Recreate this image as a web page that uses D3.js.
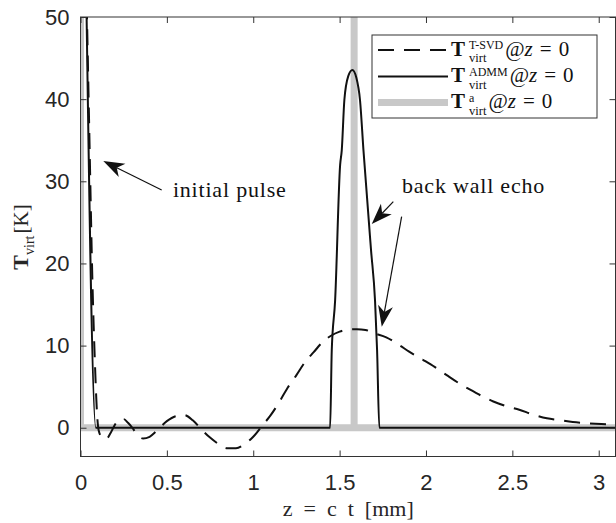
<!DOCTYPE html>
<html>
<head>
<meta charset="utf-8">
<script src="https://cdn.jsdelivr.net/npm/d3@7"></script>
<style>
  body { margin: 0; background: #fff; }
</style>
</head>
<body>
<div id="chart"></div>
<script>
// tick values
var xTicks = [0, 0.5, 1, 1.5, 2, 2.5, 3];
var yTicks = [0, 10, 20, 30, 40, 50];

// T-SVD reconstruction (dashed)
var svdZ = [0.03, 0.05, 0.07, 0.083, 0.095, 0.105, 0.125, 0.15, 0.175, 0.2, 0.225, 0.25, 0.275, 0.3, 0.33, 0.362,
            0.4, 0.44, 0.5, 0.55, 0.6, 0.65, 0.7, 0.75, 0.8, 0.85, 0.9, 0.95, 1.0, 1.05, 1.1, 1.15, 1.2, 1.25,
            1.3, 1.35, 1.4, 1.45, 1.5, 1.55, 1.6, 1.65, 1.7, 1.77, 1.85, 1.9, 1.98, 2.05, 2.12, 2.2, 2.25, 2.32,
            2.39, 2.47, 2.54, 2.62, 2.7, 2.78, 2.85, 2.93, 3.015, 3.1];
var svdT = [58, 37, 17, 8.2, 2, -0.3, -1.2, -1.35, -0.6, 0.4, 1.0, 1.05, 0.6, 0.0, -0.9, -1.3,
            -1.1, -0.4, 0.8, 1.4, 1.55, 0.9, -0.2, -1.2, -2.0, -2.5, -2.5, -2.0, -1.1, 0.2, 1.5, 3.1, 4.9, 6.4,
            8.0, 9.2, 10.4, 11.2, 11.7, 11.95, 12.0, 11.9, 11.5, 11.0, 10.0, 9.3, 8.3, 7.4, 6.4, 5.3, 4.7, 3.9,
            3.2, 2.6, 2.2, 1.6, 1.15, 0.9, 0.7, 0.55, 0.45, 0.4];

// ADMM reconstruction (solid)
var admmZ = [0.03, 0.089, 1.445, 1.4545, 1.474, 1.503, 1.5125, 1.5275, 1.55, 1.574, 1.597, 1.618, 1.638, 1.682, 1.705, 1.717, 1.73, 3.1];
var admmT = [57.8, 0, 0, 9.4, 15.5, 32, 33.8, 39.9, 42.8, 43.55, 42.6, 39.9, 33.8, 21.6, 15.5, 9.4, 0, 0];

// analytic impulses (grey)
var taZ = [0, 0.0001, 1.5839, 1.584, 1.5841, 3.1];
var taT = [80, 0, 0, 80, 0, 0];

// annotations, in data units
var arrows = [
  {z1: 0.470, t1: 28.94, z2: 0.132, t2: 32.47},
  {z1: 1.811, t1: 27.52, z2: 1.686, t2: 24.80},
  {z1: 1.859, t1: 25.69, z2: 1.744, t2: 12.30}
];
var notes = [
  {z: 0.535, t: 28.03, label: "initial pulse"},
  {z: 1.861, t: 28.57, label: "back wall echo"}
];

var width = 616, height = 523;
var x = d3.scaleLinear().domain([0, 3.1]).range([80.5, 616]);
var y = d3.scaleLinear().domain([-3.5, 50]).range([456.5, 17]);

var svg = d3.select("#chart").append("svg")
    .attr("width", width).attr("height", height);

var sans = "'Liberation Sans', Arial, Helvetica, sans-serif";
var serif = "'Liberation Serif', 'DejaVu Serif', 'Times New Roman', serif";
var axisCol = "#333333";

svg.append("clipPath").attr("id", "clip")
  .append("rect")
    .attr("x", x(0)).attr("y", y(50))
    .attr("width", x(3.1) - x(0)).attr("height", y(-3.5) - y(50));

var plot = svg.append("g").attr("clip-path", "url(#clip)");

function zip(zs, ts) { return zs.map(function(z, i) { return [z, ts[i]]; }); }

// grey analytic line
plot.append("path")
    .datum(zip(taZ, taT))
    .attr("fill", "none")
    .attr("stroke", "#c8c8c8")
    .attr("stroke-width", 7)
    .attr("d", d3.line().x(function(d) { return x(d[0]); }).y(function(d) { return y(d[1]); }));

var smooth = d3.line()
    .x(function(d) { return x(d[0]); })
    .y(function(d) { return y(d[1]); })
    .curve(d3.curveMonotoneX);

plot.append("path")
    .datum(zip(svdZ, svdT))
    .attr("fill", "none")
    .attr("stroke", "#111")
    .attr("stroke-width", 2)
    .attr("stroke-dasharray", "16,10")
    .attr("d", smooth);

plot.append("path")
    .datum(zip(admmZ, admmT))
    .attr("fill", "none")
    .attr("stroke", "#111")
    .attr("stroke-width", 2)
    .attr("d", smooth);

// axes, ticks pointing inwards
var xAxis = svg.append("g")
    .attr("transform", "translate(0," + y(-3.5) + ")")
    .call(d3.axisBottom(x).tickValues(xTicks).tickSize(-6).tickSizeOuter(0).tickPadding(18)
      .tickFormat(d3.format("")));
var yAxis = svg.append("g")
    .attr("transform", "translate(" + x(0) + ",0)")
    .call(d3.axisLeft(y).tickValues(yTicks).tickSize(-6).tickSizeOuter(0).tickPadding(11));
var xTop = svg.append("g")
    .attr("transform", "translate(0," + y(50) + ")")
    .call(d3.axisTop(x).tickValues(xTicks).tickSize(-6).tickSizeOuter(0).tickFormat(""));
var yRight = svg.append("g")
    .attr("transform", "translate(" + (x(3.1) - 0.5) + ",0)")
    .call(d3.axisRight(y).tickValues(yTicks).tickSize(-6).tickSizeOuter(0).tickFormat(""));

[xAxis, yAxis, xTop, yRight].forEach(function(g) {
  g.select(".domain").remove();
  g.selectAll("line").attr("stroke", axisCol);
  g.selectAll("text")
    .attr("font-family", sans)
    .attr("font-size", 22)
    .attr("fill", "#262626");
});

svg.append("rect")
    .attr("x", x(0)).attr("y", y(50))
    .attr("width", x(3.1) - x(0) - 0.5).attr("height", y(-3.5) - y(50))
    .attr("fill", "none")
    .attr("stroke", axisCol)
    .attr("stroke-width", 1);

// axis labels
svg.append("text")
    .attr("x", x(1.55)).attr("y", 516)
    .attr("text-anchor", "middle")
    .attr("font-family", serif)
    .attr("font-size", 22)
    .attr("fill", "#262626")
    .attr("xml:space", "preserve")
    .text("z  =  c  t  [mm]");

var ylab = svg.append("text")
    .attr("transform", "translate(28,237) rotate(-90)")
    .attr("text-anchor", "middle")
    .attr("font-family", serif)
    .attr("fill", "#262626");
ylab.append("tspan").attr("font-size", 22).attr("font-weight", "bold").text("T");
ylab.append("tspan").attr("font-size", 14).attr("dy", 6).text("virt");
ylab.append("tspan").attr("font-size", 21).attr("dy", -6).attr("dx", 2).text("[K]");

// annotations
function arrow(a) {
  var x1 = x(a.z1), y1 = y(a.t1), x2 = x(a.z2), y2 = y(a.t2);
  var ang = Math.atan2(y2 - y1, x2 - x1);
  var L = 21, W = 7.5, N = 15;
  var c = Math.cos(ang), s = Math.sin(ang);
  var bx = x2 - L * c, by = y2 - L * s;
  var nx = x2 - N * c, ny = y2 - N * s;
  svg.append("line")
      .attr("x1", x1).attr("y1", y1).attr("x2", nx).attr("y2", ny)
      .attr("stroke", "#111").attr("stroke-width", 1.2);
  svg.append("path")
      .attr("d", "M" + x2 + "," + y2 +
                 "L" + (bx - W * s) + "," + (by + W * c) +
                 "L" + nx + "," + ny +
                 "L" + (bx + W * s) + "," + (by - W * c) + "Z")
      .attr("fill", "#111");
}
arrows.forEach(arrow);

svg.selectAll("text.note")
  .data(notes)
  .enter().append("text")
    .attr("class", "note")
    .attr("x", function(d) { return x(d.z); })
    .attr("y", function(d) { return y(d.t); })
    .attr("font-family", serif)
    .attr("font-size", 22)
    .attr("letter-spacing", 0.8)
    .attr("fill", "#111")
    .text(function(d) { return d.label; });

// legend
var legend = svg.append("g");
legend.append("rect")
    .attr("x", 372).attr("y", 35).attr("width", 225).attr("height", 83)
    .attr("fill", "#fff").attr("stroke", axisCol).attr("stroke-width", 1);

var entries = [
  {sup: "T-SVD", stroke: "#111", w: 2, dash: "16,10"},
  {sup: "ADMM", stroke: "#111", w: 2, dash: null},
  {sup: "a", stroke: "#c8c8c8", w: 7, dash: null}
];
var rowY = [50, 76.5, 102.5];

entries.forEach(function(e, i) {
  var cy = rowY[i];
  legend.append("line")
      .attr("x1", 378).attr("x2", 448).attr("y1", cy).attr("y2", cy)
      .attr("stroke", e.stroke).attr("stroke-width", e.w)
      .attr("stroke-dasharray", e.dash);
  var base = cy + 5.5;
  var t = legend.append("text")
      .attr("x", 451).attr("y", base)
      .attr("font-family", serif).attr("font-size", 21).attr("font-weight", "bold")
      .attr("fill", "#111").text("T");
  var x0 = 451 + t.node().getComputedTextLength() + 4;
  var sup = legend.append("text")
      .attr("x", x0).attr("y", base - 6.5)
      .attr("font-family", serif).attr("font-size", 12)
      .attr("fill", "#111").text(e.sup);
  var sub = legend.append("text")
      .attr("x", x0).attr("y", base + 6.5)
      .attr("font-family", serif).attr("font-size", 12.5)
      .attr("fill", "#111").text("virt");
  var x1 = x0 + Math.max(sup.node().getComputedTextLength(), sub.node().getComputedTextLength()) + 2;
  var rest = legend.append("text")
      .attr("x", x1).attr("y", base)
      .attr("font-family", serif).attr("font-size", 21)
      .attr("fill", "#111");
  rest.append("tspan").text("@");
  rest.append("tspan").attr("font-style", "italic").text("z");
  rest.append("tspan").attr("dx", 7).text("=");
  rest.append("tspan").attr("dx", 7).text("0");
});
</script>
</body>
</html>
